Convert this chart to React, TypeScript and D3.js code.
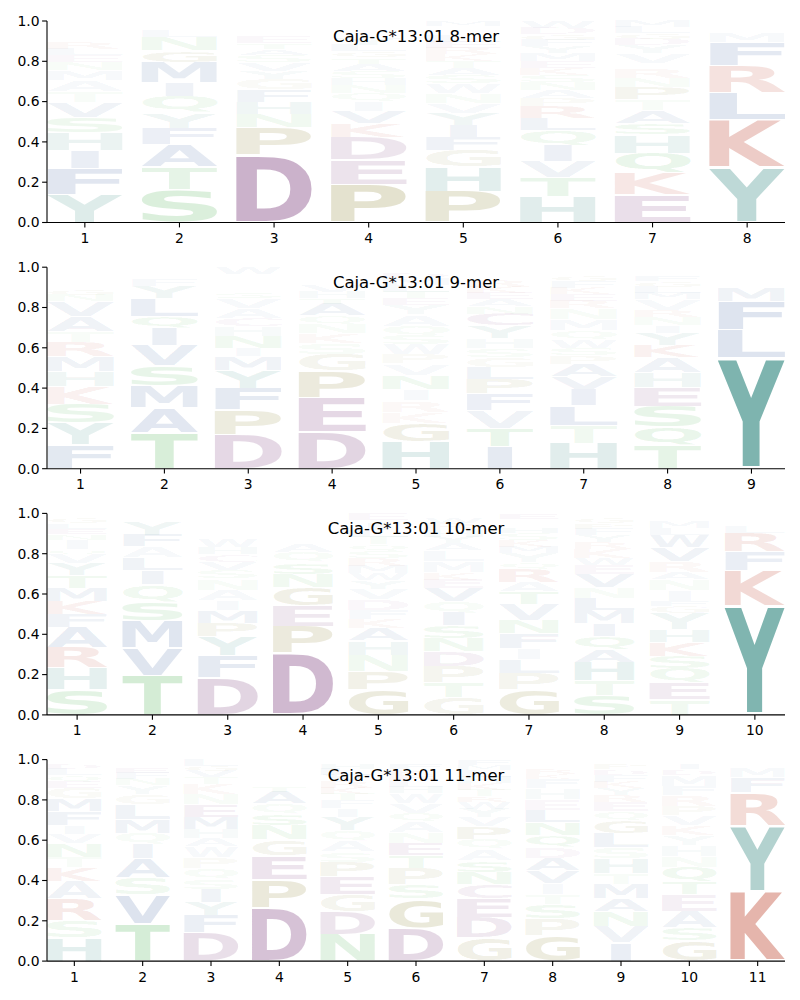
import * as d3 from "d3";
import { useMemo } from "react";

const allele = "Caja-G*13:01";
const merLengths = [8, 9, 10, 11];

// letters of each position, bottom to top, with the stacked heights
const mer8Letters = [
  "YFIHSVTAMNELRKQPGD", "STAFYQIMGNLVEK", "DPNHFGYVSATELKQR", "PEDKVIQNHSATGLYRFMW",
  "PHGFIYVNWSATKRELQDM", "HTVIQLRPANSKEMYFGDW", "EKQHSATPNRIVYDGLM", "YKLRFMIWHV",
];
const mer8Values = [
  [.14, .13, .09, .085, .075, .075, .055, .055, .05, .04, .035, .03, .03, .025, .025, .02, .02, .02],
  [.16, .11, .11, .08, .075, .08, .065, .10, .058, .065, .03, .02, .015, .012],
  [.335, .135, .068, .06, .06, .055, .04, .04, .035, .03, .03, .03, .025, .02, .02, .017],
  [.19, .12, .115, .065, .063, .05, .04, .04, .035, .035, .035, .03, .03, .03, .03, .025, .025, .02, .022],
  [.155, .12, .085, .065, .058, .06, .05, .05, .05, .04, .035, .035, .03, .03, .03, .03, .025, .025, .027],
  [.13, .095, .078, .08, .075, .06, .058, .04, .04, .04, .035, .035, .035, .04, .035, .03, .03, .03, .034],
  [.137, .108, .10, .09, .058, .063, .055, .06, .046, .046, .025, .05, .04, .03, .03, .03, .032],
  [.273, .235, .135, .135, .115, .045, .02, .015, .015, .012],
];

const mer9Letters = [
  "FYSKHMRTAVNGQLEID", "TAMSVIQLYFNGE", "DPFYMINHCAVSTLKQW", "DEPGSKNQATHVLYRF",
  "HGKRINVPWSQAYETLMDF", "ITVFPLGSHYCNAEKRMDW", "HTLIVAPSWQMNREKFGDC", "TQSEHAKYINRVMLGFDP",
  "YLFMKIVRHW",
];
const mer9Values = [
  [.118, .108, .095, .088, .073, .075, .071, .053, .075, .075, .03, .03, .025, .02, .02, .024, .02],
  [.176, .125, .11, .10, .10, .086, .058, .09, .06, .03, .025, .02, .02],
  [.168, .124, .108, .09, .066, .04, .06, .05, .04, .05, .05, .03, .025, .025, .02, .02, .034],
  [.184, .168, .133, .083, .053, .05, .045, .04, .06, .03, .03, .03, .025, .025, .02, .021],
  [.118, .08, .05, .05, .05, .06, .05, .04, .045, .04, .04, .05, .04, .03, .03, .03, .03, .025, .022],
  [.11, .09, .088, .083, .075, .058, .05, .045, .05, .06, .06, .035, .035, .03, .03, .03, .025, .025, .021],
  [.118, .08, .09, .075, .058, .058, .04, .035, .04, .04, .05, .05, .035, .03, .03, .03, .025, .02, .02],
  [.11, .09, .10, .09, .07, .075, .06, .058, .035, .04, .035, .05, .03, .03, .03, .025, .02, .02],
  [.55, .14, .14, .066, .02, .02, .02, .02, .015, .01],
];

const mer10Letters = [
  "SHRAFKMTYVQINELGD", "TVMSQILAFYNG", "DFYPMIANSVCHWEKRGLT", "DPEGNSQATHKRVLY",
  "GPNHAKFDVYWMRSQTLICE", "GTPDNSIQVEKMLAYHRWC", "GPLIFNVTARQYMKSHWCE", "STHAQIMLNVEWKRYFPGD",
  "TEQSKHYGFINARVWLMDP", "YKFRLMHIW",
];
const mer10Values = [
  [.113, .1, .091, .091, .058, .058, .058, .058, .053, .041, .025, .04, .025, .025, .025, .025, .02],
  [.184, .13, .125, .088, .08, .066, .06, .05, .055, .06, .02, .02],
  [.174, .104, .088, .066, .058, .046, .05, .053, .038, .04, .036, .033, .04, .02, .02, .02, .02, .02, .02],
  [.303, .133, .10, .091, .066, .058, .05, .04, .025, .025, .02, .02, .02, .02, .02],
  [.12, .085, .075, .066, .058, .042, .042, .05, .05, .04, .033, .035, .035, .035, .03, .035, .03, .03, .02, .03],
  [.078, .066, .075, .066, .058, .058, .058, .05, .058, .04, .033, .05, .05, .03, .03, .03, .03, .025, .02],
  [.113, .073, .061, .05, .066, .058, .075, .058, .04, .058, .03, .04, .03, .03, .03, .025, .02, .02, .025],
  [.088, .066, .083, .058, .058, .058, .058, .058, .05, .058, .04, .033, .04, .03, .03, .03, .025, .025, .02],
  [.07, .078, .066, .058, .066, .058, .075, .033, .025, .05, .05, .033, .05, .066, .058, .03, .03, .02, .02],
  [.54, .177, .091, .091, .033, .025, .015, .015, .01],
];

const mer11Letters = [
  "HSRAKTNVIFMGEQLDP", "TVSAIQMLGYNFEKR", "DFYISQPWAHMENKTVGL", "DPEGNSQATHVKRYL",
  "NDGEPSAQYIFTKRVLHM", "DGSPTENAQVWHLRKFM", "GDECNSAQPVYWRTKHLMF", "GPSTIVADQNLEHFKRMW",
  "IVNAMTHSLGQERYKFDPW", "GSAETQNHYKVPRFMDIW", "KYRFMHI",
];
const mer11Values = [
  [.112, .08, .1, .083, .066, .05, .063, .045, .041, .066, .058, .05, .03, .03, .03, .025, .02],
  [.182, .14, .083, .09, .07, .053, .066, .075, .05, .04, .03, .03, .025, .02, .02],
  [.135, .083, .063, .063, .05, .05, .05, .053, .038, .045, .058, .058, .05, .05, .03, .03, .025, .03],
  [.264, .14, .116, .08, .071, .058, .05, .058, .03, .025, .025, .02, .02, .02, .02],
  [.128, .108, .083, .086, .07, .05, .05, .05, .066, .04, .04, .03, .03, .03, .03, .03, .025, .02],
  [.153, .133, .066, .075, .058, .058, .05, .05, .04, .045, .045, .03, .03, .025, .025, .025, .02],
  [.107, .096, .088, .066, .055, .055, .053, .046, .058, .041, .041, .033, .025, .03, .03, .03, .03, .025, .025],
  [.116, .078, .066, .046, .05, .058, .058, .05, .053, .058, .058, .05, .05, .04, .025, .025, .02, .02],
  [.083, .075, .066, .058, .066, .05, .066, .05, .066, .058, .041, .041, .033, .03, .03, .03, .025, .025, .02],
  [.091, .058, .075, .075, .058, .066, .05, .05, .045, .045, .045, .041, .05, .04, .05, .025, .025, .02],
  [.344, .327, .165, .074, .05, .02, .02],
];

const panelLetters = [mer8Letters, mer9Letters, mer10Letters, mer11Letters];
const panelValues = [mer8Values, mer9Values, mer10Values, mer11Values];

// residue colours (drawn with opacity = letter height)
const residueColor: Record<string, string> = {
  Y: "#14766d", H: "#14766d",
  A: "#14418c", V: "#14418c", L: "#14418c", I: "#14418c", M: "#14418c", F: "#14418c", W: "#14418c",
  S: "#22a02a", T: "#22a02a", N: "#22a02a", Q: "#22a02a",
  D: "#641964", E: "#641964", C: "#641964",
  K: "#b4280f", R: "#b4280f",
  P: "#6e6400", G: "#6e6400",
};

const W = 800;
const H = 1000;
const left = 47;
const right = 785;
const top0 = 21;
const axH = 201.5;
const step = 246.2;
const font = "DejaVu Sans";

type Box = { l: number; r: number; a: number; d: number };

function useGlyphBoxes() {
  return useMemo(() => {
    const boxes: Record<string, Box> = {};
    const ctx = document.createElement("canvas").getContext("2d");
    "ACDEFGHIKLMNPQRSTVWY".split("").forEach((ch) => {
      let b: Box = { l: -4, r: 68, a: 73, d: 0 };
      if (ctx) {
        ctx.font = `bold 100px '${font}'`;
        const m = ctx.measureText(ch);
        if (m.actualBoundingBoxAscent) {
          b = { l: m.actualBoundingBoxLeft, r: m.actualBoundingBoxRight, a: m.actualBoundingBoxAscent, d: m.actualBoundingBoxDescent };
        }
      }
      boxes[ch] = b;
    });
    return boxes;
  }, []);
}

function Logo({ idx, boxes }: { idx: number; boxes: Record<string, Box> }) {
  const n = merLengths[idx];
  const top = top0 + idx * step;
  const bottom = top + axH;
  const x = d3.scaleLinear().domain([0.6, n + 0.4]).range([left, right]);
  const y = d3.scaleLinear().domain([0, 1]).range([bottom, top]);
  const letters = panelLetters[idx];
  const values = panelValues[idx];
  const colW = (x(2) - x(1)) * 0.8;
  const vpad = 0.05;
  // narrow letters are not stretched wider than an "E" would be
  const maxSx = colW / (boxes.E.l + boxes.E.r);

  const glyphs: JSX.Element[] = [];
  letters.forEach((col, i) => {
    const vals = values[i];
    const total = d3.sum(vals);
    let acc = 0;
    col.split("").forEach((ch, j) => {
      const v = vals[j] / total;
      const y0 = acc + (v * vpad) / 2;
      const y1 = acc + v - (v * vpad) / 2;
      acc += v;
      const b = boxes[ch];
      const sx = Math.min(colW / (b.l + b.r), maxSx);
      const gw = (b.l + b.r) * sx;
      const px = x(i + 1) - gw / 2;
      const pTop = y(y1);
      const ph = y(y0) - y(y1);
      const sy = ph / (b.a + b.d);
      glyphs.push(
        <text
          key={`${i}-${j}`}
          transform={`translate(${px + b.l * sx},${pTop + b.a * sy}) scale(${sx},${sy})`}
          fontFamily={font}
          fontWeight="bold"
          fontSize={100}
          fill={residueColor[ch]}
          fillOpacity={v}
        >
          {ch}
        </text>
      );
    });
  });

  return (
    <g>
      {glyphs}
      <text x={(left + right) / 2} y={top + 21} textAnchor="middle" fontFamily={font} fontSize={16.5} fill="#000">
        {`${allele} ${n}-mer`}
      </text>
      <line x1={left} x2={left} y1={top} y2={bottom} stroke="#000" strokeWidth={1.1} />
      <line x1={left} x2={right} y1={bottom} y2={bottom} stroke="#000" strokeWidth={1.1} />
      {d3.range(0, 1.01, 0.2).map((t) => (
        <g key={`y${t}`}>
          <line x1={left - 4.9} x2={left} y1={y(t)} y2={y(t)} stroke="#000" strokeWidth={1.1} />
          <text x={left - 7.5} y={y(t) + 4.8} textAnchor="end" fontFamily={font} fontSize={13.9} fill="#000">
            {d3.format(".1f")(t)}
          </text>
        </g>
      ))}
      {d3.range(1, n + 1).map((t) => (
        <g key={`x${t}`}>
          <line x1={x(t)} x2={x(t)} y1={bottom} y2={bottom + 4.9} stroke="#000" strokeWidth={1.1} />
          <text x={x(t)} y={bottom + 20.5} textAnchor="middle" fontFamily={font} fontSize={13.9} fill="#000">
            {t}
          </text>
        </g>
      ))}
    </g>
  );
}

export default function App() {
  const boxes = useGlyphBoxes();
  return (
    <svg width={W} height={H} style={{ position: "absolute", left: 0, top: 0, background: "#fff" }}>
      {merLengths.map((_, i) => (
        <Logo key={i} idx={i} boxes={boxes} />
      ))}
    </svg>
  );
}
